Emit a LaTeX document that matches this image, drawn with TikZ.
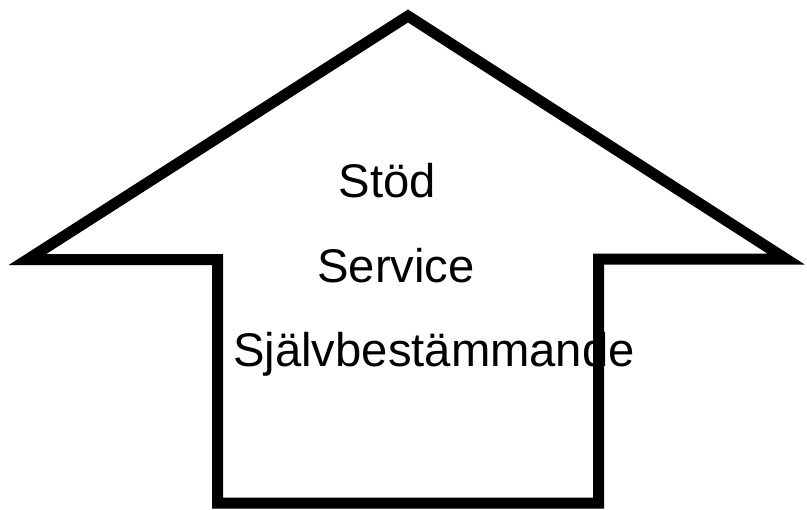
\documentclass[tikz,border=0pt]{standalone}
\usepackage{fontspec}
\setmainfont{Liberation Sans}
\usetikzlibrary{positioning}

\begin{document}
\begin{tikzpicture}[
  x=0.03cm, y=-0.03cm,
  outline/.style={draw, line width=0.33cm, line join=miter},
  word/.style={anchor=base, inner sep=0pt, font=\fontsize{40.3}{48}\selectfont},
]
  \useasboundingbox (0,0) rectangle (807,510);
  \node[word] (stod) at (387.5,197) {Stöd};
  \node[word] (service) at (396,282) {Service};
  \node[word] (sjalv) at (434,366) {Självbestämmande};
  % the arrow is drawn last, over the text
  \draw[outline] (408,16) -- (786,259) -- (598.5,259) -- (598.5,503)
    -- (217.5,503) -- (217.5,259.5) -- (27.5,259.5) -- cycle;
\end{tikzpicture}
\end{document}
